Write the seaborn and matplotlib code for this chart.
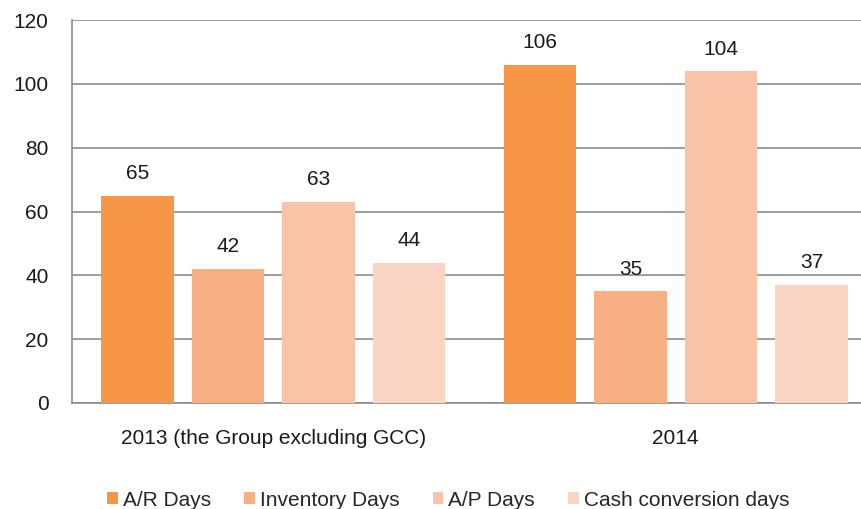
import pandas as pd
import matplotlib.pyplot as plt
import seaborn as sns

# dati
categorie = ['2013 (the Group excluding GCC)', '2014']
serie = ['A/R Days', 'Inventory Days', 'A/P Days', 'Cash conversion days']
valori_2013 = [65, 42, 63, 44]
valori_2014 = [106, 35, 104, 37]
colori = ['#F79646', '#F8AF83', '#F9C3A8', '#FAD5C4']

rows = []
for s, v1, v2 in zip(serie, valori_2013, valori_2014):
    rows.append({'Anno': categorie[0], 'Serie': s, 'Valore': v1})
    rows.append({'Anno': categorie[1], 'Serie': s, 'Valore': v2})
df = pd.DataFrame(rows)

sns.set_theme(style="white")
plt.rcParams['font.family'] = ['Liberation Sans', 'DejaVu Sans']

fig = plt.figure(figsize=(8.61, 5.09), dpi=100)
ax = fig.add_axes([72 / 861, 1 - 403 / 509, 789 / 861, 383 / 509])

sns.barplot(data=df, x='Anno', y='Valore', hue='Serie', order=categorie,
            hue_order=serie, palette=colori, width=0.9, gap=0.2,
            saturation=1, linewidth=0, ax=ax, legend=True, zorder=3)

# etichette dei valori
for cont in ax.containers:
    ax.bar_label(cont, labels=[f'{int(v)}' for v in cont.datavalues],
                 padding=9, fontsize=15, color='#1a1a1a')

ax.set_ylim(0, 120)
ax.set_yticks(range(0, 121, 20))
ax.set_xlim(-0.5, 1.5 - 16 / 403)
ax.yaxis.grid(True, color='#8c8c8c', linewidth=1.2, zorder=0)
ax.set_axisbelow(True)
ax.tick_params(axis='y', length=0, pad=17, labelsize=15, colors='#1a1a1a')
ax.tick_params(axis='x', length=0, pad=19, labelsize=15, colors='#1a1a1a')
ax.set_xlabel('')
ax.set_ylabel('')
for side in ['top', 'right']:
    ax.spines[side].set_visible(False)
for side in ['left', 'bottom']:
    ax.spines[side].set_color('#8c8c8c')
    ax.spines[side].set_linewidth(1.2)

ax.legend(loc='center', bbox_to_anchor=(0.477, -0.254), ncol=4,
          frameon=False, fontsize=15, handlelength=0.5, handleheight=0.5,
          handletextpad=0.25, columnspacing=1.6, borderaxespad=0,
          borderpad=0)

plt.savefig('out.png', dpi=100)
